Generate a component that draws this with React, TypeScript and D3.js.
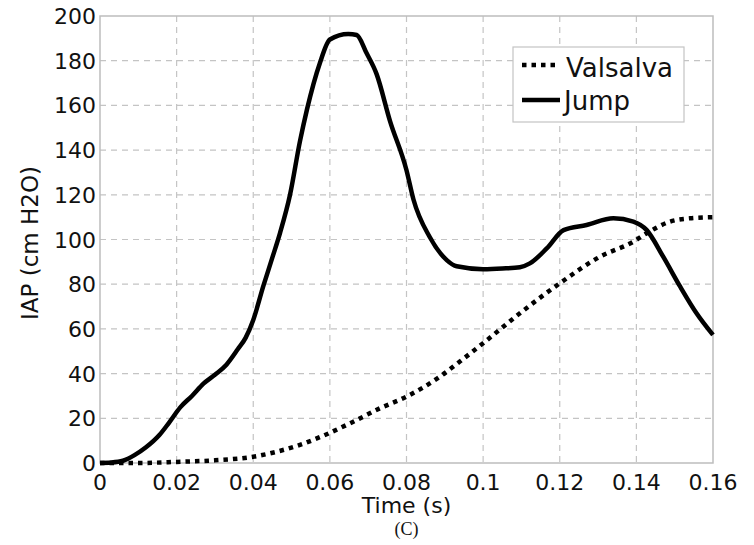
import React from "react";
import * as d3 from "d3";

const jumpT = [0, 0.003, 0.006, 0.009, 0.012, 0.0155, 0.018, 0.021, 0.024, 0.027, 0.03, 0.033, 0.036, 0.038, 0.04, 0.0426, 0.045, 0.047, 0.0496, 0.0522, 0.054, 0.0574, 0.06, 0.0648, 0.067, 0.0696, 0.0722, 0.0757, 0.08, 0.0818, 0.0861, 0.0905, 0.0931, 0.1, 0.105, 0.1096, 0.1122, 0.1166, 0.121, 0.127, 0.134, 0.1392, 0.1427, 0.147, 0.1514, 0.1557, 0.16];
const jumpV = [0, 0.2, 1, 3.5, 7, 12.5, 18, 25, 30, 35.5, 39.5, 44, 51, 56, 64, 79, 92, 103, 120, 144, 158, 179, 189.5, 192, 191.5, 183.3, 174, 153, 131, 118, 101, 90.8, 88, 86.7, 87, 87.6, 89.3, 96, 104.2, 106.5, 109.5, 108, 104.2, 92.3, 79, 67, 57.3];

const valsalvaT = [0, 0.01, 0.02, 0.03, 0.04, 0.046, 0.052, 0.058, 0.0653, 0.0731, 0.08, 0.0887, 0.094, 0.1, 0.1096, 0.12, 0.1305, 0.1392, 0.1427, 0.1488, 0.154, 0.16];
const valsalvaV = [0, 0, 0.5, 1.2, 2.8, 5, 8, 12, 17.8, 24.5, 29.7, 38.6, 45.5, 53.6, 67, 80.4, 92.3, 99, 102.8, 108, 109.5, 110];

const xTicks = [0, 0.02, 0.04, 0.06, 0.08, 0.1, 0.12, 0.14, 0.16];
const xTickLabels = ["0", "0.02", "0.04", "0.06", "0.08", "0.1", "0.12", "0.14", "0.16"];
const yTicks = [0, 20, 40, 60, 80, 100, 120, 140, 160, 180, 200];

const seriesNames = ["Valsalva", "Jump"];

const W = 754;
const H = 545;
const L = 100, R = 713, T = 16, B = 463;
const FONT = "'DejaVu Sans', 'Liberation Sans', Arial, sans-serif";

export default function App() {
  const x = d3.scaleLinear().domain([0, 0.16]).range([L, R]);
  const y = d3.scaleLinear().domain([0, 200]).range([B, T]);
  const line = d3
    .line<[number, number]>()
    .x((d) => x(d[0]))
    .y((d) => y(d[1]))
    .curve(d3.curveMonotoneX);
  const jump = jumpT.map((t, i) => [t, jumpV[i]] as [number, number]);
  const vals = valsalvaT.map((t, i) => [t, valsalvaV[i]] as [number, number]);
  const grid = "#c4c4c4";

  return (
    <svg
      width={W}
      height={H}
      style={{ position: "absolute", left: 0, top: 0, background: "#fff" }}
      fontFamily={FONT}
    >
      <rect x={0} y={0} width={W} height={H} fill="#fff" />
      {xTicks.slice(1, -1).map((t) => (
        <line key={"gx" + t} x1={x(t)} x2={x(t)} y1={T} y2={B} stroke={grid} strokeWidth={1.2} strokeDasharray="6 5" />
      ))}
      {yTicks.slice(1, -1).map((v) => (
        <line key={"gy" + v} x1={L} x2={R} y1={y(v)} y2={y(v)} stroke={grid} strokeWidth={1.2} strokeDasharray="6 5" />
      ))}
      <rect x={L} y={T} width={R - L} height={B - T} fill="none" stroke="#bdbdbd" strokeWidth={1.5} />
      {xTicks.map((t, i) => (
        <text key={"xt" + t} x={x(t)} y={B + 27} textAnchor="middle" fontSize={22} fill="#111">
          {xTickLabels[i]}
        </text>
      ))}
      {yTicks.map((v) => (
        <text key={"yt" + v} x={L - 4} y={y(v) + 8} textAnchor="end" fontSize={22} fill="#111">
          {v}
        </text>
      ))}
      <path d={line(vals) || ""} fill="none" stroke="#000" strokeWidth={4.5} strokeDasharray="4.5 5" />
      <path d={line(jump) || ""} fill="none" stroke="#000" strokeWidth={4.5} strokeLinejoin="round" />
      <g>
        <rect x={513} y={47} width={171} height={75} fill="#fff" stroke="#c4c4c4" strokeWidth={1.2} />
        <line x1={522} x2={558} y1={65} y2={65} stroke="#000" strokeWidth={4.5} strokeDasharray="4.5 5" />
        <line x1={522} x2={560} y1={100} y2={100} stroke="#000" strokeWidth={4.5} />
        <text x={566} y={77} fontSize={26} fill="#111">{seriesNames[0]}</text>
        <text x={564} y={110} fontSize={26} fill="#111">{seriesNames[1]}</text>
      </g>
      <text x={(L + R) / 2} y={513} textAnchor="middle" fontSize={22} fill="#111">Time (s)</text>
      <text
        transform={`translate(38, ${243}) rotate(-90)`}
        textAnchor="middle"
        fontSize={23}
        fill="#111"
      >
        IAP (cm H2O)
      </text>
      <text x={(L + R) / 2} y={535} textAnchor="middle" fontSize={18} fontFamily="'Liberation Serif', 'DejaVu Serif', serif" fill="#111">
        (C)
      </text>
    </svg>
  );
}
